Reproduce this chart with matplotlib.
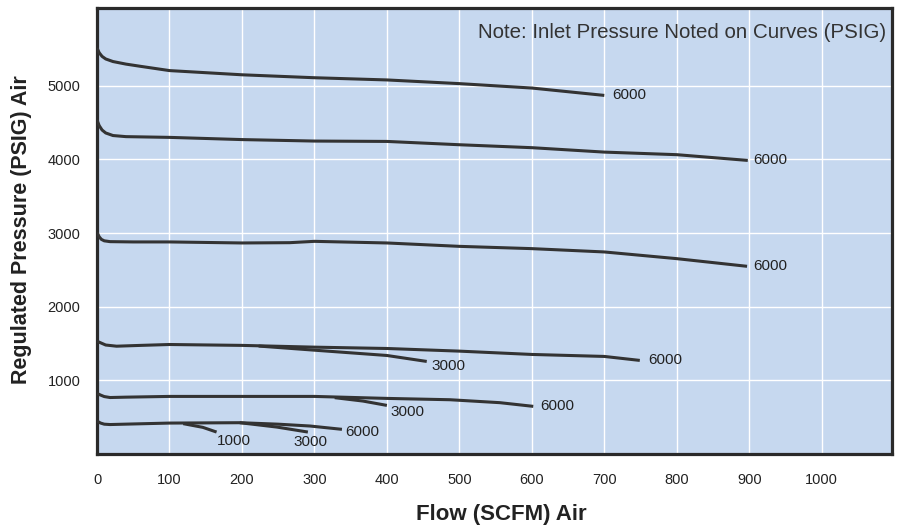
import numpy as np
import matplotlib
matplotlib.use("Agg")
import matplotlib.pyplot as plt

plt.rcParams['font.family'] = ['Liberation Sans Narrow', 'Liberation Sans', 'DejaVu Sans']

# curves: flow (SCFM) vs regulated pressure (PSIG)
top_x = [0, 3, 7, 12, 22, 40, 60, 100, 200, 300, 400, 500, 600, 700]
top_y = [5515, 5450, 5400, 5365, 5330, 5295, 5265, 5207, 5150, 5110, 5080, 5030, 4970, 4870]

c4000_x = [0, 3, 7, 12, 22, 40, 100, 200, 300, 400, 500, 600, 700, 800, 898]
c4000_y = [4536, 4460, 4400, 4360, 4325, 4310, 4300, 4270, 4250, 4245, 4200, 4160, 4100, 4065, 3987]

c3000_x = [0, 3, 6, 10, 18, 50, 100, 200, 266, 300, 400, 500, 600, 700, 800, 897]
c3000_y = [3010, 2950, 2915, 2895, 2884, 2880, 2880, 2866, 2870, 2888, 2866, 2820, 2789, 2744, 2653, 2549]

c1500_x = [0, 5, 12, 27, 60, 100, 200, 300, 400, 500, 600, 700, 749]
c1500_y = [1532, 1510, 1480, 1464, 1475, 1487, 1475, 1451, 1433, 1397, 1352, 1325, 1271]
c1500b_x = [223, 300, 400, 455]
c1500b_y = [1466, 1410, 1338, 1257]

c800_x = [0, 5, 10, 18, 40, 100, 200, 300, 400, 487, 556, 602]
c800_y = [823, 800, 780, 767, 772, 782, 782, 782, 755, 737, 697, 647]
c800b_x = [328, 367, 400]
c800b_y = [765, 719, 660]

c400_x = [0, 5, 10, 18, 50, 100, 197, 250, 294, 338]
c400_y = [447, 420, 405, 400, 408, 420, 425, 405, 380, 335]
c400b_x = [197, 248, 291]
c400b_y = [425, 366, 298]
c400c_x = [119, 146, 165]
c400c_y = [412, 362, 298]

labels = ["6000", "6000", "6000", "6000", "3000", "6000", "3000", "6000", "3000", "1000"]

curves = [(top_x, top_y), (c4000_x, c4000_y), (c3000_x, c3000_y),
          (c1500_x, c1500_y), (c1500b_x, c1500b_y),
          (c800_x, c800_y), (c800b_x, c800b_y),
          (c400_x, c400_y), (c400b_x, c400b_y), (c400c_x, c400c_y)]
# label offset from curve end, pixels (right, down)
offsets = [(8, 0), (5, 0), (6, 0), (8, 0), (5, 5), (7, 0), (4, 7), (3, 3), (-14, 10), (0, 9)]

fig = plt.figure(figsize=(8.97, 5.25), dpi=100)
ax = fig.add_axes([97 / 897, 71 / 525, 795 / 897, 446 / 525])
ax.set_facecolor('#c6d8ef')

for (x, y), lab, (dx, dy) in zip(curves, labels, offsets):
    ax.plot(x, y, color='#333333', lw=2.2, solid_capstyle='butt',
            solid_joinstyle='round', zorder=3)
    ax.annotate(lab, (x[-1], y[-1]), xytext=(dx * 0.72, -dy * 0.72),
                textcoords='offset points', ha='left', va='center',
                fontsize=11, color='#222222', zorder=4)

ax.set_xlim(0, 1097)
ax.set_ylim(0, 6057)
ax.set_xticks(np.arange(0, 1001, 100))
ax.set_yticks(np.arange(1000, 5001, 1000))
ax.grid(True, color='white', lw=1.0)
ax.set_axisbelow(True)
ax.tick_params(length=0, labelsize=10.5, labelcolor='#222222')
ax.tick_params(axis='x', pad=14)
ax.tick_params(axis='y', pad=12)
for s in ax.spines.values():
    s.set_linewidth(2.3)
    s.set_color('#2a2a2a')

ax.set_xlabel('Flow (SCFM) Air', fontsize=16, fontweight='bold', color='#222222')
ax.set_ylabel('Regulated Pressure (PSIG) Air', fontsize=15.5, fontweight='bold', color='#222222')
ax.xaxis.set_label_coords(0.508, -0.112)
ax.yaxis.set_label_coords(-0.082, 0.502)

ax.text(0.993, 0.945, 'Note: Inlet Pressure Noted on Curves (PSIG)', transform=ax.transAxes,
        ha='right', va='center', fontsize=14.8, color='#333333')

fig.savefig('out.png', dpi=100)
